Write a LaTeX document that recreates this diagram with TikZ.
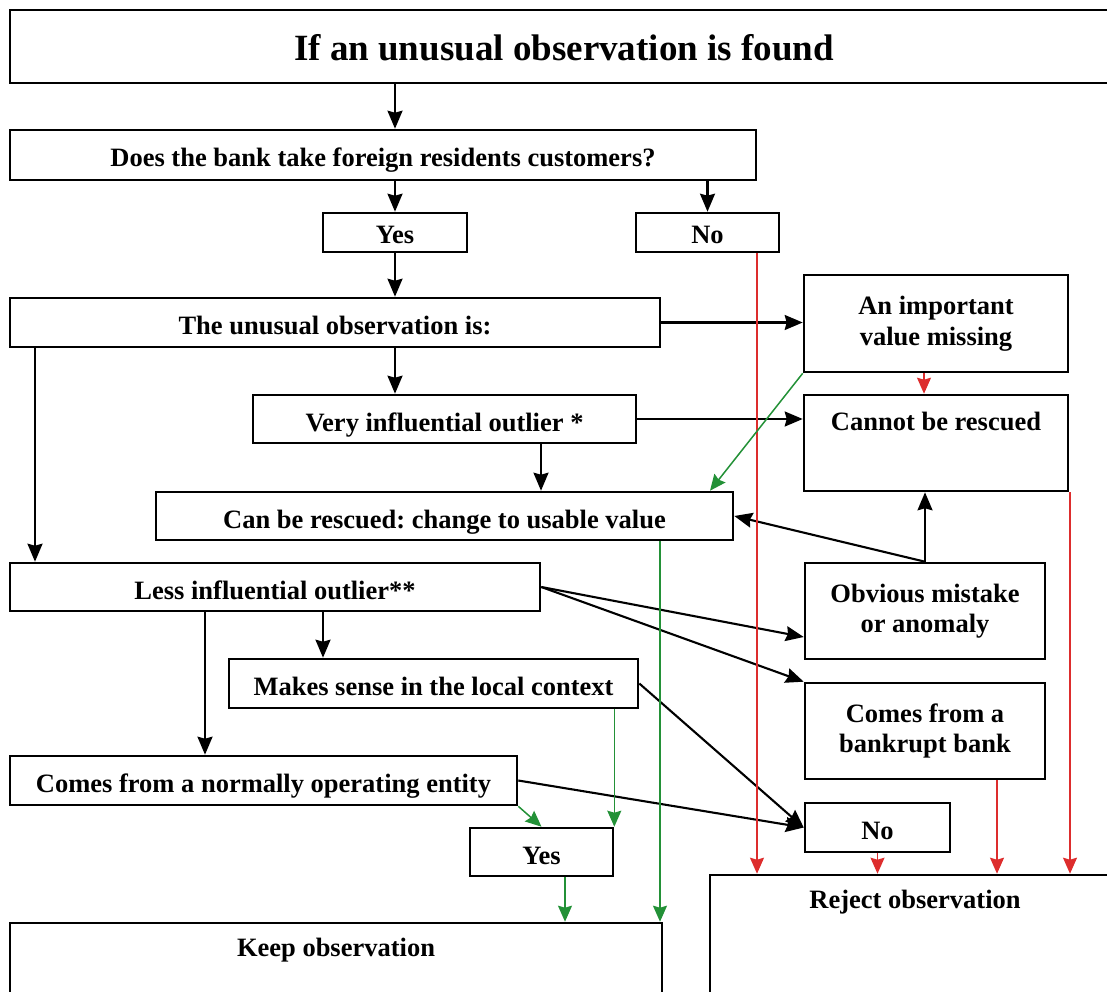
\documentclass[tikz,border=0pt]{standalone}
\usepackage{fontspec}
\setmainfont{Liberation Serif}
\usetikzlibrary{arrows.meta}
\definecolor{rline}{RGB}{221,45,45}
\definecolor{gline}{RGB}{35,145,55}
\tikzset{
  txt/.style={font=\frenchspacing\bfseries\fontsize{26.5}{30.5}\selectfont},
  box/.style={draw=black, line width=2.6pt, inner sep=0pt, align=center, txt},
  one/.style={text height=24pt, text depth=0pt},
  lbl/.style={inner sep=0pt, anchor=base, txt},
  arr/.style={line width=2.1pt, -{Stealth[length=18pt,width=15pt,inset=2pt]}},
  rarr/.style={draw=rline, line width=1.5pt, -{Stealth[length=16pt,width=14pt,inset=2pt]}, rline},
  garr/.style={draw=gline, line width=1.5pt, -{Stealth[length=16pt,width=14pt,inset=2pt]}, gline},
}
\begin{document}
\begin{tikzpicture}[x=1pt,y=-1pt]
\useasboundingbox (0,0) rectangle (1107,992);
\clip (0,0) rectangle (1107,992);
% boxes
\node[box, minimum width=1108pt, minimum height=73pt, font=\bfseries\fontsize{37}{44}\selectfont, text height=28pt, text depth=0pt] (top) at (564,46.5) {If an unusual observation is found};
\node[box, one, minimum width=746pt, minimum height=50pt] (q) at (383,155) {Does the bank take foreign residents customers?};
\node[box, one, minimum width=144pt, minimum height=39pt, text height=22pt] (yes1) at (395,232.5) {Yes};
\node[box, one, minimum width=143pt, minimum height=39pt, text height=22pt] (no1) at (707.5,232.5) {No};
\node[box, one, minimum width=650pt, minimum height=49pt] (unusual) at (335,322.5) {The unusual observation is:};
\node[box, minimum width=264pt, minimum height=97pt] (missing) at (936,323.5) {An important\\value missing};
\node[box, minimum width=264pt, minimum height=96pt] (cannot) at (936,443) {};
\node[lbl] at ([yshift=-37pt]cannot.north) {Cannot be rescued};
\node[box, one, minimum width=383pt, minimum height=48pt] (very) at (444.5,419) {Very influential outlier *};
\node[box, one, minimum width=577pt, minimum height=48pt] (can) at (444.5,516) {Can be rescued: change to usable value};
\node[box, one, minimum width=530pt, minimum height=48pt] (less) at (275,587) {Less influential outlier**};
\node[box, minimum width=240pt, minimum height=96pt] (obvious) at (925,611) {Obvious mistake\\or anomaly};
\node[box, minimum width=240pt, minimum height=96pt] (bankrupt) at (925,731) {Comes from a\\bankrupt bank};
\node[box, one, minimum width=409pt, minimum height=49pt] (sense) at (433.5,683.5) {Makes sense in the local context};
\node[box, one, minimum width=507pt, minimum height=49pt] (normal) at (263.5,780.5) {Comes from a normally operating entity};
\node[box, one, minimum width=145pt, minimum height=49pt] (no2) at (877.5,827.5) {No};
\node[box, one, minimum width=143pt, minimum height=48pt] (yes2) at (541.5,852) {Yes};
\node[box, minimum width=652pt, minimum height=180pt] (keep) at (336,1013) {};
\node[lbl] at ([yshift=-35pt]keep.north) {Keep observation};
\node[box, minimum width=410pt, minimum height=230pt] (reject) at (915,990) {};
\node[lbl] at ([yshift=-35pt]reject.north) {Reject observation};
% black connectors
\draw[arr] (top.south -| yes1) -- (q.north -| yes1);
\draw[arr] (q.south -| yes1) -- (yes1.north);
\draw[arr] (q.south -| no1) -- (no1.north);
\draw[arr] (yes1.south) -- (unusual.north -| yes1);
\draw[arr] (unusual.east) -- (missing.west |- unusual.east);
\draw[arr] (unusual.south -| yes1) -- (very.north -| yes1);
\draw[arr] (very.east) -- (cannot.west |- very.east);
\draw[arr] (very.south -| 541,0) -- (can.north -| 541,0);
\draw[arr] (unusual.south -| 35,0) -- (less.north -| 35,0);
\draw[arr] (obvious.north) -- (cannot.south -| obvious.north);
\draw[arr] (obvious.north) -- (can.east);
\draw[arr] (less.east) -- (obvious.west |- 0,637);
\draw[arr] (less.east) -- (bankrupt.north west);
\draw[arr] (less.south -| 323,0) -- (sense.north -| 323,0);
\draw[arr] (less.south -| 205,0) -- (normal.north -| 205,0);
\draw[arr] (sense.east) -- (no2.west);
\draw[arr] (normal.east) -- (no2.west);
% red connectors
\draw[rarr] (missing.south -| 924,0) -- (cannot.north -| 924,0);
\draw[rarr] (no1.south -| 757,0) -- (reject.north -| 757,0);
\draw[rarr] (cannot.south -| 1070,0) -- (reject.north -| 1070,0);
\draw[rarr] (no2.south) -- (reject.north -| no2.south);
\draw[rarr] (bankrupt.south -| 997,0) -- (reject.north -| 997,0);
% green connectors
\draw[garr] (missing.south west) -- (can.north -| 710,0);
\draw[garr] (can.south -| 660,0) -- (keep.north -| 660,0);
\draw[garr] (sense.south -| yes2.north east) -- (yes2.north east);
\draw[garr] (normal.south east) -- (yes2.north);
\draw[garr] (yes2.south -| 565,0) -- (keep.north -| 565,0);
\end{tikzpicture}
\end{document}
